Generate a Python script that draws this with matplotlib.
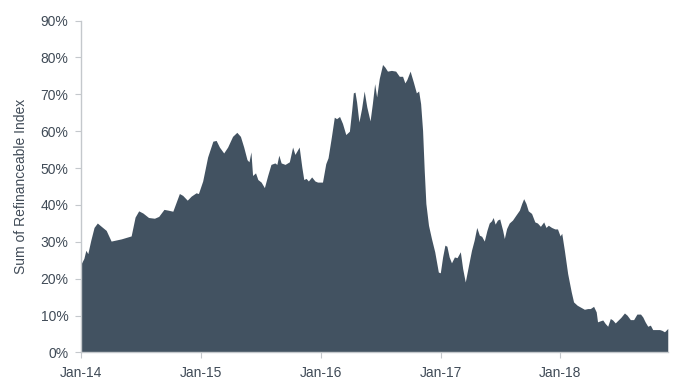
import matplotlib
matplotlib.use("Agg")
import matplotlib.pyplot as plt
import matplotlib.dates as mdates
import pandas as pd

# weekly-ish readings of the refinanceable index (% of index)
dates_2014 = ["2014-01-02", "2014-01-10", "2014-01-16", "2014-01-22", "2014-01-31", "2014-02-10",
              "2014-02-20", "2014-03-04", "2014-03-19", "2014-04-03", "2014-05-04", "2014-06-03",
              "2014-06-15", "2014-06-26", "2014-07-09", "2014-07-26", "2014-08-13", "2014-08-26",
              "2014-09-11", "2014-09-23", "2014-10-08", "2014-10-28", "2014-11-07", "2014-11-21",
              "2014-12-03", "2014-12-18", "2014-12-25"]
vals_2014 = [24.1, 25.5, 27.7, 26.8, 30.4, 33.9, 35.1, 34.2, 33.1, 30.2, 30.8, 31.6,
             36.7, 38.4, 37.8, 36.6, 36.4, 36.9, 38.8, 38.6, 38.3, 43.1, 42.6, 41.3,
             42.4, 43.3, 43.1]

dates_2015 = ["2015-01-07", "2015-01-22", "2015-02-07", "2015-02-17", "2015-02-27", "2015-03-12",
              "2015-03-24", "2015-04-08", "2015-04-21", "2015-05-02", "2015-05-12", "2015-05-22",
              "2015-05-28", "2015-06-03", "2015-06-08", "2015-06-17", "2015-06-24", "2015-07-04",
              "2015-07-14", "2015-07-24", "2015-08-03", "2015-08-15", "2015-08-21", "2015-08-27",
              "2015-09-03", "2015-09-15", "2015-09-28", "2015-10-08", "2015-10-15", "2015-10-28",
              "2015-11-05", "2015-11-11", "2015-11-18", "2015-11-25", "2015-12-05", "2015-12-15",
              "2015-12-23"]
vals_2015 = [46.5, 53.0, 57.3, 57.5, 55.7, 54.1, 55.7, 58.6, 59.7, 58.6, 55.7, 52.3,
             51.7, 54.4, 48.0, 48.7, 46.9, 46.2, 44.7, 48.0, 51.0, 51.4, 51.0, 53.5,
             51.4, 51.0, 51.7, 55.7, 53.7, 55.7, 50.3, 46.9, 47.2, 46.5, 47.6, 46.5,
             46.2]

dates_2016 = ["2016-01-02", "2016-01-07", "2016-01-17", "2016-01-24", "2016-02-03", "2016-02-12",
              "2016-02-19", "2016-02-28", "2016-03-08", "2016-03-18", "2016-03-29", "2016-04-05",
              "2016-04-10", "2016-04-15", "2016-04-20", "2016-04-27", "2016-05-05", "2016-05-13",
              "2016-05-21", "2016-05-31", "2016-06-07", "2016-06-14", "2016-06-20", "2016-06-28",
              "2016-07-08", "2016-07-15", "2016-07-23", "2016-08-04", "2016-08-17", "2016-08-28",
              "2016-09-07", "2016-09-14", "2016-09-20", "2016-09-30", "2016-10-10", "2016-10-19",
              "2016-10-26", "2016-11-01", "2016-11-07", "2016-11-12", "2016-11-17", "2016-11-25",
              "2016-12-04", "2016-12-14", "2016-12-25", "2016-12-31"]
vals_2016 = [46.2, 46.2, 51.2, 52.8, 58.4, 63.8, 63.4, 64.0, 62.1, 59.1, 60.0, 65.7,
             70.4, 70.6, 67.9, 62.5, 66.1, 70.9, 66.6, 62.8, 67.5, 72.9, 69.3, 74.3,
             78.1, 77.4, 76.3, 76.5, 76.3, 74.9, 74.9, 73.1, 74.0, 76.3, 73.3, 70.4,
             70.9, 67.5, 60.2, 49.4, 40.4, 34.5, 30.9, 27.3, 21.8, 21.6]

dates_2017 = ["2017-01-07", "2017-01-14", "2017-01-20", "2017-01-27", "2017-02-03", "2017-02-12",
              "2017-02-20", "2017-03-02", "2017-03-09", "2017-03-17", "2017-03-26", "2017-04-05",
              "2017-04-13", "2017-04-21", "2017-04-29", "2017-05-06", "2017-05-14", "2017-05-22",
              "2017-05-29", "2017-06-05", "2017-06-10", "2017-06-16", "2017-06-23", "2017-06-30",
              "2017-07-09", "2017-07-14", "2017-07-21", "2017-07-29", "2017-08-08", "2017-08-18",
              "2017-08-29", "2017-09-05", "2017-09-11", "2017-09-18", "2017-09-25", "2017-10-05",
              "2017-10-15", "2017-10-23", "2017-11-01", "2017-11-11", "2017-11-18", "2017-11-25",
              "2017-12-05", "2017-12-15", "2017-12-23", "2017-12-31"]
vals_2017 = [25.9, 29.1, 28.8, 25.9, 24.3, 25.9, 25.7, 27.3, 22.8, 19.1, 23.2, 27.7,
             30.4, 33.9, 31.8, 31.5, 30.2, 33.1, 35.1, 35.7, 36.6, 34.8, 35.9, 36.2,
             33.1, 30.9, 33.6, 35.1, 35.9, 37.2, 38.6, 40.4, 41.7, 40.4, 38.4, 37.7,
             35.4, 35.1, 34.2, 35.4, 33.9, 34.5, 33.9, 33.5, 33.5, 31.6]

dates_2018 = ["2018-01-05", "2018-01-13", "2018-01-23", "2018-02-03", "2018-02-10", "2018-02-21",
              "2018-03-05", "2018-03-15", "2018-03-25", "2018-04-02", "2018-04-12", "2018-04-20",
              "2018-04-24", "2018-05-03", "2018-05-10", "2018-05-17", "2018-05-25", "2018-06-02",
              "2018-06-09", "2018-06-17", "2018-06-26", "2018-07-04", "2018-07-15", "2018-07-23",
              "2018-08-02", "2018-08-12", "2018-08-22", "2018-09-02", "2018-09-09", "2018-09-16",
              "2018-09-24", "2018-10-02", "2018-10-09", "2018-10-20", "2018-10-30", "2018-11-06",
              "2018-11-14", "2018-11-24"]
vals_2018 = [32.3, 27.7, 21.4, 16.4, 13.7, 12.8, 12.2, 11.7, 11.9, 11.9, 12.5, 11.0,
             8.3, 8.6, 8.8, 7.9, 7.1, 9.2, 8.8, 8.0, 8.8, 9.5, 10.7, 10.1,
             8.9, 8.9, 10.4, 10.4, 9.6, 8.3, 7.1, 7.4, 6.2, 6.2, 6.2, 6.0,
             5.6, 6.5]

y_ticks = [0, 10, 20, 30, 40, 50, 60, 70, 80, 90]
y_label = "Sum of Refinanceable Index"

fill_color = "#425261"
text_color = "#404b57"
axis_color = "#c4c8cc"

dates = pd.to_datetime(dates_2014 + dates_2015 + dates_2016 + dates_2017 + dates_2018)
values = vals_2014 + vals_2015 + vals_2016 + vals_2017 + vals_2018

plt.rcParams['font.family'] = ['Liberation Sans', 'DejaVu Sans']

fig = plt.figure(figsize=(6.8, 3.89), dpi=100)
ax = fig.add_axes([0.119, 0.094, 0.863, 0.853])

ax.fill_between(dates, values, 0, color=fill_color, linewidth=0)

ax.set_xlim(pd.Timestamp("2014-01-01"), dates[-1])
ax.set_ylim(0, 90)
ax.set_yticks(y_ticks)
ax.set_yticklabels([f"{t}%" for t in y_ticks])
ax.xaxis.set_major_locator(mdates.YearLocator())
ax.xaxis.set_major_formatter(mdates.DateFormatter("%b-%y"))

for side in ["top", "right"]:
    ax.spines[side].set_visible(False)
for side in ["left", "bottom"]:
    ax.spines[side].set_color(axis_color)
    ax.spines[side].set_linewidth(1)

ax.tick_params(axis="both", colors=axis_color, labelcolor=text_color, labelsize=10, length=4)
ax.tick_params(axis="y", pad=5)
ax.tick_params(axis="x", pad=6)
ax.set_ylabel(y_label, color=text_color, fontsize=10, labelpad=9)

fig.savefig("out.png", dpi=100)
